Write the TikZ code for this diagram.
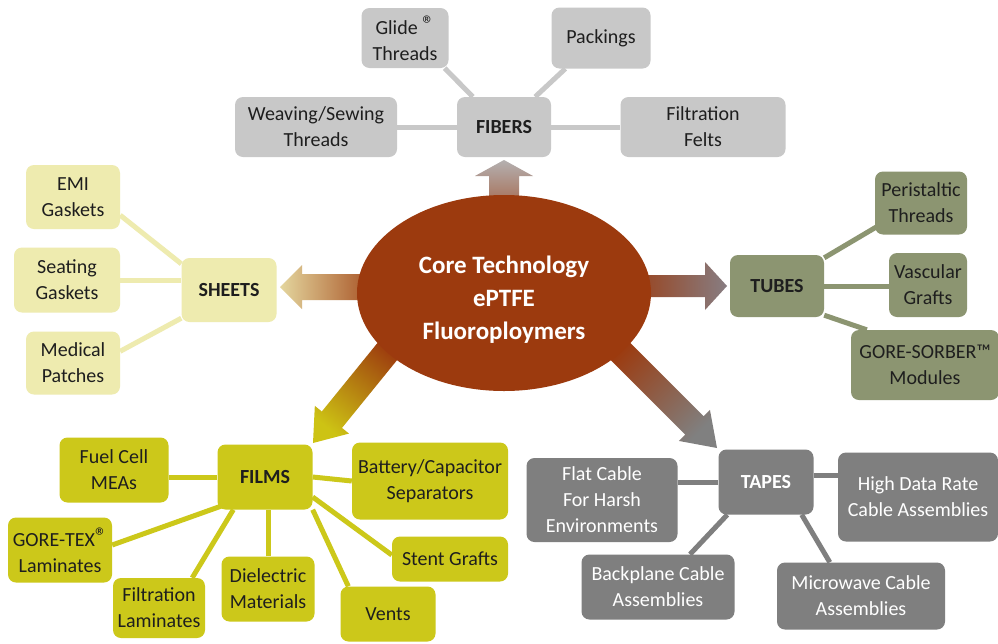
\documentclass[tikz,border=0pt]{standalone}
\usepackage{fontspec}
\setmainfont{Carlito}
\usetikzlibrary{calc,backgrounds,shapes.geometric}
\definecolor{core}{RGB}{156,58,14}
\definecolor{fibfill}{RGB}{200,200,200}
\definecolor{shfill}{RGB}{238,235,175}
\definecolor{tubfill}{RGB}{140,149,113}
\definecolor{filmfill}{RGB}{204,200,26}
\definecolor{tapefill}{RGB}{127,127,127}
\definecolor{txt}{RGB}{30,30,30}
\definecolor{fibend}{RGB}{180,176,176}
\definecolor{shend}{RGB}{228,214,158}
\definecolor{tubend}{RGB}{135,125,130}
\definecolor{filmend}{RGB}{205,195,20}
\definecolor{tapeend}{RGB}{128,128,128}
% start, end, start colour, end colour, shading angle, head length, head half width, shaft half width
\newcommand{\gradarrow}[8]{%
  \path ($(#2)!#6pt!(#1)$) coordinate (gah);
  \shade[bottom color=#3, top color=#4, shading angle=#5]
    ($(#1)!#8pt!90:(#2)$) -- ($(gah)!#8pt!90:(#2)$) -- ($(gah)!#7pt!90:(#2)$) -- (#2)
    -- ($(gah)!#7pt!-90:(#2)$) -- ($(gah)!#8pt!-90:(#2)$) -- ($(#1)!#8pt!-90:(#2)$) -- cycle;
}
\newcommand{\regmark}{\raisebox{0.2ex}{\fontsize{24}{24}\selectfont ®}}
\tikzset{
  box/.style={rounded corners=8pt, align=center, inner sep=2pt, text=txt,
    font=\fontsize{20}{26}\selectfont},
  hubbox/.style={font=\bfseries\fontsize{20}{26}\selectfont},
  fib/.style={box, fill=fibfill},
  sht/.style={box, fill=shfill},
  tub/.style={box, fill=tubfill},
  flm/.style={box, fill=filmfill},
  tap/.style={box, fill=tapefill, text=white},
  ln/.style={line width=5pt},
}
\begin{document}
\begin{tikzpicture}[x=1pt, y=-1pt]
\useasboundingbox (0,0) rectangle (998,643);
% core
\node[ellipse, fill=core, minimum width=294, minimum height=196, inner sep=0] (core) at (504,293) {};
\node[text=white, font=\bfseries\fontsize{25}{33}\selectfont, align=center, inner sep=0]
  (coretext) at ([yshift=-7pt]core.center) {Core Technology\\ePTFE\\Fluoroploymers};
% FIBERS
\node[fib, hubbox, minimum width=94, minimum height=60] (fibers) at (504,127) {FIBERS};
\node[fib, minimum width=162, minimum height=60] (weave) at (316,127) {Weaving/Sewing\\Threads};
\node[fib, minimum width=87, minimum height=60] (glide) at (405,38) {Glide \regmark\\Threads};
\node[fib, minimum width=99, minimum height=61] (pack) at (601,38) {Packings};
\node[fib, minimum width=165, minimum height=60] (felts) at (703,127) {Filtration\\Felts};
% SHEETS
\node[sht, hubbox, minimum width=95, minimum height=64] (sheets) at (229,290) {SHEETS};
\node[sht, minimum width=94, minimum height=64] (emi) at (73,197) {EMI\\Gaskets};
\node[sht, minimum width=106, minimum height=65] (seat) at (67,280) {Seating\\Gaskets};
\node[sht, minimum width=94, minimum height=63] (medical) at (73,363) {Medical\\Patches};
% TUBES
\node[tub, hubbox, minimum width=94, minimum height=62] (tubes) at (777,286) {TUBES};
\node[tub, minimum width=92, minimum height=63] (peri) at (921,203) {Peristaltic\\Threads};
\node[tub, minimum width=78, minimum height=64] (vasc) at (928,285) {Vascular\\Grafts};
\node[tub, minimum width=148, minimum height=70] (sorber) at (925,365) {GORE-SORBER™\\Modules};
% FILMS
\node[flm, hubbox, minimum width=95, minimum height=65] (films) at (265,477) {FILMS};
\node[flm, minimum width=109, minimum height=65] (fuel) at (114,470) {Fuel Cell\\MEAs};
\node[flm, minimum width=104, minimum height=65] (goretex) at (60,550) {GORE-TEX\regmark\\Laminates};
\node[flm, minimum width=92, minimum height=60] (filtlam) at (159,608) {Filtration\\Laminates};
\node[flm, minimum width=93, minimum height=65] (dielec) at (268,589) {Dielectric\\Materials};
\node[flm, minimum width=95, minimum height=55] (vents) at (388,614) {Vents};
\node[flm, minimum width=116, minimum height=45] (stent) at (450,559) {Stent Grafts};
\node[flm, minimum width=156, minimum height=77] (battery) at (430,481) {Battery/Capacitor\\Separators};
% TAPES
\node[tap, hubbox, minimum width=95, minimum height=65] (tapes) at (766,482) {TAPES};
\node[tap, minimum width=151, minimum height=84] (flat) at (602,500) {Flat Cable\\For Harsh\\Environments};
\node[tap, minimum width=160, minimum height=89] (high) at (918,497) {High Data Rate\\Cable Assemblies};
\node[tap, minimum width=153, minimum height=65] (back) at (658,587) {Backplane Cable\\Assemblies};
\node[tap, minimum width=168, minimum height=67] (micro) at (861,596) {Microwave Cable\\Assemblies};

\begin{scope}[on background layer]
\fill[white] (0,0) rectangle (998,643);
% connectors
\draw[ln, fibfill] (weave) -- (fibers);
\draw[ln, fibfill] (fibers) -- (felts);
\draw[ln, fibfill] ([xshift=-4pt]glide.south east) -- ([xshift=16pt]fibers.north west);
\draw[ln, fibfill] ([xshift=14pt]pack.south west) -- ([xshift=-16pt]fibers.north east);
\draw[ln, shfill] ([yshift=14pt]emi.south east) -- ([yshift=-6pt]sheets.north west);
\draw[ln, shfill] (seat.east) -- (seat.east -| sheets.west);
\draw[ln, shfill] ([yshift=-20pt]medical.north east) -- ([yshift=4pt]sheets.south west);
\draw[ln, tubfill] ([yshift=-3pt]tubes.north east) -- ([xshift=2pt,yshift=8pt]peri.south west);
\draw[ln, tubfill] (tubes.east) -- (tubes.east -| vasc.west);
\draw[ln, tubfill] ([yshift=2pt]tubes.south east) -- ([xshift=16pt]sorber.north west);
\draw[ln, filmfill] ([yshift=-7pt]fuel.east) -- (films.west);
\draw[ln, filmfill] ([yshift=5pt]goretex.east) -- ([xshift=5pt,yshift=4pt]films.south west);
\draw[ln, filmfill] ([xshift=-13pt]filtlam.north east) -- ([xshift=16pt]films.south west);
\draw[ln, filmfill] (dielec.north) -- (dielec.north |- films.south);
\draw[ln, filmfill] (films.south east) -- ([xshift=8pt]vents.north west);
\draw[ln, filmfill] ([yshift=-20pt]films.east) -- ([yshift=4pt]stent.west);
\draw[ln, filmfill] (films.east) -- (battery.west);
\draw[ln, tapefill] (tapes.west) -- (tapes.west -| flat.east);
\draw[ln, tapefill] ([yshift=7pt]tapes.east) -- ([yshift=7pt]tapes.east -| high.west);
\draw[ln, tapefill] ([xshift=32pt]back.north) -- ([xshift=9pt]tapes.south west);
\draw[ln, tapefill] ([xshift=-12pt]tapes.south east) -- ([xshift=53pt]micro.north west);
% arrows
\coordinate (fa1) at (504,240); \coordinate (fa2) at (504,160);
\coordinate (sa1) at (390,287); \coordinate (sa2) at (280,287);
\coordinate (ta1) at (620,286); \coordinate (ta2) at (727,286);
\coordinate (la1) at (395,342); \coordinate (la2) at (313,443);
\coordinate (pa1) at (611,342); \coordinate (pa2) at (717,448);
\gradarrow{fa1}{fa2}{core}{fibend}{0}{16}{29}{15}
\gradarrow{sa1}{sa2}{core}{shend}{90}{22}{22}{13}
\gradarrow{ta1}{ta2}{core}{tubend}{-90}{22}{24}{11}
\gradarrow{la1}{la2}{core}{filmend}{141}{30}{22}{13}
\gradarrow{pa1}{pa2}{core}{tapeend}{-135}{32}{22}{13}
\end{scope}
\end{tikzpicture}
\end{document}
